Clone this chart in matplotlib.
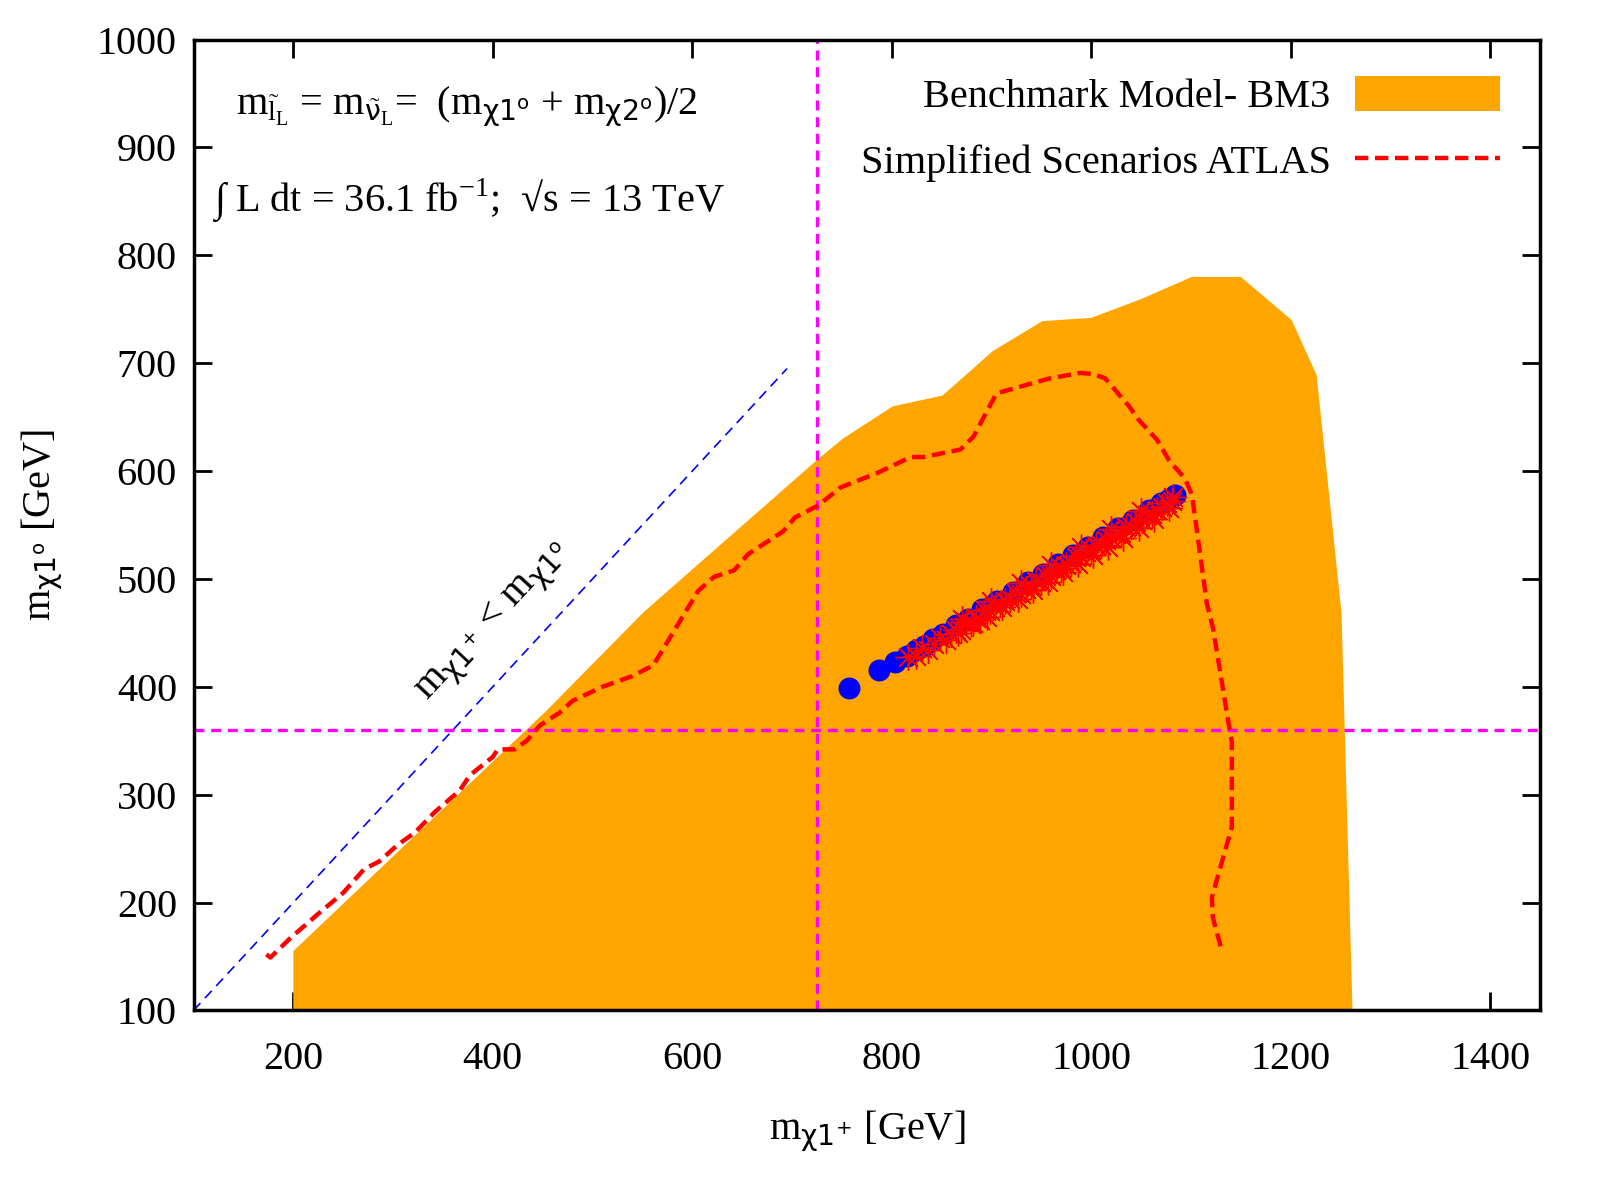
import numpy as np
import matplotlib
matplotlib.use('Agg')
import matplotlib.pyplot as plt
from matplotlib.patches import Patch
from matplotlib.lines import Line2D

plt.rcParams['font.family'] = ['Liberation Serif', 'DejaVu Serif']
plt.rcParams['mathtext.fontset'] = 'custom'
plt.rcParams['mathtext.rm'] = 'Liberation Serif'
plt.rcParams['mathtext.it'] = 'DejaVu Sans'
plt.rcParams['mathtext.sf'] = 'DejaVu Sans'

# benchmark model BM3 region (polygon outline)
bm3_x = [200, 200, 454, 551, 726, 751, 801, 851, 901, 951, 1000, 1049, 1101, 1150, 1201, 1226, 1251, 1262]
bm3_y = [100, 155, 378, 469, 611, 630, 660, 670, 711, 739, 742, 759, 780, 780, 740, 689, 468, 100]

# ATLAS simplified scenario exclusion contour
atlas_x = [173, 177, 197, 223, 250, 271, 286, 304, 322, 342, 367, 377, 400, 405, 422, 434, 447,
           467, 480, 510, 540, 561, 574, 606, 622, 642, 656, 691, 703, 726, 749, 785, 819, 832,
           869, 882, 894, 905, 943, 959, 989, 1002, 1014, 1038, 1048, 1066, 1078, 1094, 1101,
           1116, 1122, 1139, 1141, 1141, 1121, 1122, 1131]
atlas_y = [152, 149, 167, 188, 209, 231, 238, 253, 265, 284, 304, 318, 335, 342, 342, 350, 364,
           376, 387, 400, 410, 420, 440, 489, 502, 508, 523, 544, 557, 568, 585, 598, 613, 613,
           620, 632, 653, 672, 682, 686, 691, 690, 686, 660, 647, 629, 610, 593, 578,
           477, 455, 359, 349, 270, 205, 186, 155]

# scan points
blue_x = [757, 787, 803, 815, 824, 832, 841, 851, 864, 876, 891, 906, 922, 937, 952,
          967, 982, 997, 1012, 1027, 1042, 1058, 1070, 1078, 1084]
blue_y = [399, 416, 423, 429, 434, 438, 444, 449, 457, 463, 472, 480, 488, 497, 505,
          514, 522, 530, 539, 547, 555, 564, 570, 574, 578]

star_x = [816, 824, 830, 836, 842, 848, 854, 859, 864, 869, 874, 879, 884, 889, 894, 899, 904,
          909, 914, 919, 925, 930, 935, 940, 945, 950, 955, 960, 965, 970, 975, 980, 985, 990,
          995, 1000, 1005, 1010, 1015, 1020, 1025, 1030, 1035, 1040, 1045, 1051, 1056, 1061, 1066,
          1071, 1076, 1081, 1082,
          866, 881, 896, 911, 927, 942, 957, 972, 987, 1002, 1017, 1032, 1048, 1063, 1078,
          870, 900, 930, 960, 990, 1020, 1050]
star_y = [428, 429, 436, 434, 440, 445, 443, 449, 453, 453, 460, 458, 464, 462, 471, 470, 474,
          477, 480, 481, 487, 486, 491, 493, 498, 497, 503, 503, 508, 510, 513, 515, 520, 520,
          525, 527, 531, 531, 536, 538, 542, 543, 548, 549, 553, 555, 559, 560, 564,
          567, 570, 572, 576,
          450, 459, 465, 474, 481, 490, 497, 506, 514, 522, 530, 538, 547, 556, 566,
          463, 480, 496, 513, 530, 546, 563]

# kinematic boundary m_chi1+ = m_chi1o
diag_x = [100, 695]
diag_y = [100, 695]

x_cut = 725
y_cut = 360

fs = 29

fig = plt.figure(figsize=(16, 12), dpi=100)
ax = fig.add_axes([0.121, 0.158, 0.8415, 0.809])

ax.fill(bm3_x, bm3_y, color='#FFA500', lw=0, zorder=1)
ax.axvline(x_cut, color='#FF00FF', lw=2.4, ls=(0, (3, 2)), zorder=2)
ax.axhline(y_cut, color='#FF00FF', lw=2.4, ls=(0, (3, 2)), zorder=2)
ax.plot(diag_x, diag_y, color='#0000FF', lw=1.2, ls=(0, (6, 4)), zorder=2)
ax.plot(atlas_x, atlas_y, color='#FF0000', lw=3.2, ls=(0, (3, 1.5)), zorder=3)
ax.scatter(blue_x, blue_y, s=250, color='#0000FF', lw=0, zorder=4)
ax.scatter(star_x, star_y, s=340, color='#FF0000', marker=(8, 2, 0), lw=1.0, zorder=5)

ax.set_xlim(100, 1450)
ax.set_ylim(100, 1000)
ax.set_xticks(range(200, 1401, 200))
ax.set_yticks(range(100, 1001, 100))
ax.set_axisbelow(True)
ax.tick_params(direction='in', length=13, width=2, labelsize=fs, top=True, right=True)
ax.tick_params(axis='x', pad=22)
ax.tick_params(axis='y', pad=12)
for s in ax.spines.values():
    s.set_linewidth(2.5)

ax.set_xlabel(r'$\mathrm{m}_{\chi\mathsf{1}^{\mathsf{+}}}$ [GeV]', fontsize=fs, labelpad=22)
ax.set_ylabel(r'$\mathrm{m}_{\chi\mathsf{1}^{\mathsf{o}}}$ [GeV]', fontsize=fs, labelpad=23)

ax.text(143, 938, r'$\mathrm{m}_{\tilde{\mathrm{l}}_{\mathrm{L}}}$ = $\mathrm{m}_{\tilde{\nu}_{\mathrm{L}}}$=  '
        r'($\mathrm{m}_{\chi\mathsf{1}^{\mathsf{o}}}$ + $\mathrm{m}_{\chi\mathsf{2}^{\mathsf{o}}}$)/2',
        fontsize=fs, va='center', ha='left')
ax.text(118, 851, '∫ L dt = 36.1 fb$^{\\mathrm{-1}}$;  √s = 13 TeV',
        fontsize=fs, va='center', ha='left')
ax.text(401, 460, r'$\mathrm{m}_{\chi\mathsf{1}^{\mathsf{+}}}$ < $\mathrm{m}_{\chi\mathsf{1}^{\mathsf{o}}}$',
        fontsize=fs, rotation=47, ha='center', va='center')

handles = [Patch(facecolor='#FFA500', edgecolor='none'),
           Line2D([], [], color='#FF0000', lw=3.2, ls=(0, (3, 1.5)))]
ax.legend(handles, ['Benchmark Model- BM3', 'Simplified Scenarios ATLAS'],
          loc='upper right', frameon=False, markerfirst=False, fontsize=fs,
          handlelength=3.6, handleheight=0.95, labelspacing=0.65, handletextpad=0.6,
          bbox_to_anchor=(0.997, 1.0))

fig.savefig('out.png', dpi=100)
